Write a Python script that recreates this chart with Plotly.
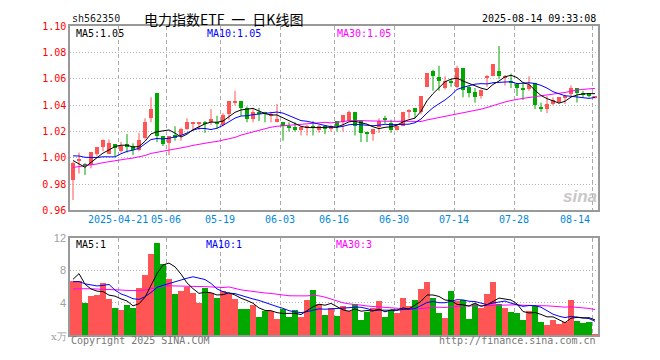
import numpy as np
import plotly.graph_objects as go

# ---------------- data ----------------
tick_idx = [8, 16, 25, 35, 44, 54, 64, 74, 87]
tick_labels = ["2025-04-21", "05-06", "05-19", "06-03", "06-16", "06-30", "07-14", "07-28", "08-14"]

open_ = [0.983, 0.997, 0.995, 0.994, 1.003, 1.008, 1.003, 1.010, 1.005, 1.010,
         1.009, 1.006, 1.015, 1.030, 1.049, 1.016, 1.011, 1.017, 1.017, 1.022,
         1.026, 1.026, 1.027, 1.027, 1.027, 1.025, 1.033, 1.042, 1.043, 1.038,
         1.029, 1.035, 1.035, 1.032, 1.027, 1.027, 1.024, 1.023, 1.021, 1.023,
         1.024, 1.021, 1.024, 1.022, 1.028, 1.027, 1.028, 1.035, 1.028, 1.019,
         1.018, 1.023, 1.030, 1.026, 1.021, 1.024, 1.035, 1.038, 1.035, 1.054,
         1.066, 1.061, 1.053, 1.058, 1.054, 1.068, 1.054, 1.050, 1.047, 1.061,
         1.062, 1.066, 1.061, 1.058, 1.056, 1.053, 1.052, 1.057, 1.038, 1.037,
         1.041, 1.042, 1.046, 1.048, 1.053, 1.049, 1.049, 1.046]
high = [0.997, 1.004, 0.996, 1.004, 1.008, 1.014, 1.014, 1.010, 1.012, 1.018,
        1.011, 1.019, 1.030, 1.046, 1.049, 1.016, 1.016, 1.024, 1.023, 1.030,
        1.027, 1.027, 1.028, 1.037, 1.032, 1.034, 1.043, 1.051, 1.043, 1.039,
        1.038, 1.038, 1.035, 1.035, 1.041, 1.027, 1.027, 1.027, 1.024, 1.025,
        1.028, 1.025, 1.024, 1.025, 1.028, 1.032, 1.036, 1.035, 1.028, 1.019,
        1.022, 1.030, 1.032, 1.029, 1.024, 1.035, 1.037, 1.038, 1.047, 1.064,
        1.067, 1.070, 1.062, 1.060, 1.070, 1.068, 1.055, 1.053, 1.052, 1.063,
        1.071, 1.085, 1.063, 1.064, 1.057, 1.057, 1.062, 1.057, 1.042, 1.047,
        1.046, 1.046, 1.048, 1.055, 1.053, 1.051, 1.049, 1.047]
low = [0.968, 0.988, 0.987, 0.992, 1.001, 1.005, 1.003, 1.001, 1.004, 1.004,
       1.002, 1.005, 1.014, 1.027, 1.012, 1.009, 1.002, 1.013, 1.013, 1.021,
       1.021, 1.021, 1.019, 1.025, 1.022, 1.024, 1.029, 1.040, 1.032, 1.027,
       1.027, 1.028, 1.027, 1.027, 1.027, 1.013, 1.020, 1.020, 1.017, 1.017,
       1.017, 1.019, 1.018, 1.020, 1.020, 1.020, 1.028, 1.017, 1.012, 1.012,
       1.013, 1.019, 1.026, 1.019, 1.021, 1.024, 1.030, 1.030, 1.033, 1.054,
       1.051, 1.051, 1.052, 1.054, 1.053, 1.046, 1.046, 1.042, 1.045, 1.054,
       1.062, 1.060, 1.055, 1.053, 1.047, 1.044, 1.051, 1.037, 1.035, 1.034,
       1.040, 1.041, 1.041, 1.047, 1.042, 1.046, 1.046, 1.045]
close = [0.996, 0.999, 0.994, 1.004, 1.008, 1.013, 1.011, 1.007, 1.009, 1.008,
         1.006, 1.013, 1.027, 1.037, 1.016, 1.010, 1.016, 1.015, 1.022, 1.027,
         1.027, 1.027, 1.026, 1.029, 1.026, 1.032, 1.043, 1.043, 1.038, 1.029,
         1.035, 1.033, 1.033, 1.033, 1.029, 1.024, 1.023, 1.021, 1.023, 1.024,
         1.023, 1.024, 1.022, 1.024, 1.024, 1.032, 1.035, 1.024, 1.019, 1.018,
         1.022, 1.028, 1.029, 1.021, 1.024, 1.035, 1.036, 1.035, 1.047, 1.064,
         1.062, 1.058, 1.058, 1.057, 1.068, 1.051, 1.049, 1.046, 1.051, 1.062,
         1.071, 1.062, 1.062, 1.057, 1.053, 1.052, 1.055, 1.040, 1.037, 1.041,
         1.044, 1.046, 1.047, 1.053, 1.049, 1.048, 1.047, 1.047]
volume = [6.7, 6.7, 4.0, 4.8, 5.0, 6.4, 4.5, 3.4, 3.1, 3.7,
          3.4, 5.8, 7.4, 10.0, 11.4, 8.8, 6.9, 5.1, 5.5, 6.0,
          5.2, 4.0, 5.8, 5.2, 4.6, 5.4, 5.1, 4.5, 3.2, 3.2,
          3.7, 2.2, 3.0, 3.0, 2.0, 3.2, 2.2, 3.1, 2.2, 4.4,
          5.6, 3.8, 2.5, 3.3, 2.4, 3.6, 3.0, 3.9, 1.9, 2.8,
          3.3, 4.2, 2.2, 3.1, 2.7, 4.6, 3.6, 4.3, 5.7, 6.6,
          4.6, 2.7, 2.1, 5.4, 4.2, 4.3, 2.0, 3.9, 3.4, 5.1,
          6.6, 3.9, 3.3, 2.8, 2.7, 1.9, 3.0, 3.6, 1.6, 1.2,
          1.9, 1.4, 1.6, 4.3, 1.8, 1.5, 1.6, 0.2]

# the 29 sessions before the first visible one (estimated so that the MA lines start where they do)
prior_close = [0.980, 0.978, 0.982, 0.985, 0.983, 0.986, 0.990, 0.988, 0.985, 0.987,
               0.990, 0.992, 0.989, 0.991, 0.994, 0.992, 0.990, 0.993, 0.995, 0.995,
               1.000, 1.004, 1.006, 1.008, 1.007, 1.012, 1.007, 0.985, 0.990]
prior_volume = [5.0, 4.6, 5.2, 5.8, 5.5, 4.8, 5.1, 5.6, 5.3, 4.9,
                5.0, 5.4, 5.7, 5.2, 4.8, 5.5, 5.6, 5.1, 5.3, 5.6,
                6.5, 6.8, 6.2, 6.2, 5.8, 3.2, 10.5, 7.8, 6.3]

ma_text_price = ["MA5:1.05", "MA10:1.05", "MA30:1.05"]
ma_text_vol = ["MA5:1", "MA10:1", "MA30:3"]

# ---------------- helpers ----------------
n = len(close)
xs = list(range(n))


def moving_avg(prior, vals, w):
    arr = np.array(prior + vals, dtype=float)
    out = np.convolve(arr, np.ones(w) / w, mode="valid")
    return out[-len(vals):]


ma5 = moving_avg(prior_close, close, 5)
ma10 = moving_avg(prior_close, close, 10)
ma30 = moving_avg(prior_close, close, 30)
vma5 = moving_avg(prior_volume, volume, 5)
vma10 = moving_avg(prior_volume, volume, 10)
vma30 = moving_avg(prior_volume, volume, 30)

RED = "#FF5555"
GREEN = "#00A800"
up = [c >= o for o, c in zip(open_, close)]
colors = [RED if u else GREEN for u in up]

W, H = 660, 360
X0, X1 = 70, 598
MAIN_TOP, MAIN_BOT = 21, 211.5
VOL_TOP, VOL_BOT = 240, 340.5


def py(y):
    return 1 - y / H


MONO = "DejaVu Sans Mono, Liberation Mono, monospace"

fig = go.Figure()

# wicks
for col, flag in ((RED, True), (GREEN, False)):
    wx, wy = [], []
    for i in xs:
        if up[i] == flag:
            wx += [i, i, None]
            wy += [low[i], high[i], None]
    fig.add_trace(go.Scatter(x=wx, y=wy, mode="lines", line=dict(color=col, width=1),
                             xaxis="x", yaxis="y", hoverinfo="skip", showlegend=False))

# bodies
base = [min(o, c) for o, c in zip(open_, close)]
body = [max(abs(c - o), 0.0009) for o, c in zip(open_, close)]
fig.add_trace(go.Bar(x=xs, y=body, base=base, width=0.82, marker=dict(color=colors, line=dict(width=0)),
                     xaxis="x", yaxis="y", showlegend=False))

# price MAs
for arr, col in ((ma30, "#FF00FF"), (ma10, "#0000FF"), (ma5, "#000000")):
    fig.add_trace(go.Scatter(x=xs, y=arr, mode="lines", line=dict(color=col, width=1),
                             xaxis="x", yaxis="y", showlegend=False))

# volume
fig.add_trace(go.Bar(x=xs, y=volume, width=0.88, marker=dict(color=colors, line=dict(width=0)),
                     xaxis="x2", yaxis="y2", showlegend=False))
for arr, col in ((vma30, "#FF00FF"), (vma10, "#0000FF"), (vma5, "#000000")):
    fig.add_trace(go.Scatter(x=xs, y=arr, mode="lines", line=dict(color=col, width=1),
                             xaxis="x2", yaxis="y2", showlegend=False))

grid_x = [i - 0.5 for i in tick_idx]
price_ticks = [0.96, 0.98, 1.00, 1.02, 1.04, 1.06, 1.08, 1.10]

common_x = dict(range=[-0.5, n - 0.5], domain=[X0 / W, X1 / W], tickvals=grid_x, showticklabels=False,
                showgrid=True, gridcolor="#AAAAAA", griddash="4px,3px", gridwidth=1,
                showline=True, mirror=True, linecolor="#999999", linewidth=1.5, zeroline=False, ticks="")

fig.update_layout(
    width=W, height=H, margin=dict(l=0, r=0, t=0, b=0),
    paper_bgcolor="white", plot_bgcolor="white", bargap=0, showlegend=False,
    xaxis=dict(anchor="y", **common_x),
    xaxis2=dict(anchor="y2", **common_x),
    yaxis=dict(anchor="x", domain=[py(MAIN_BOT), py(MAIN_TOP)], range=[0.96, 1.10],
               tickvals=price_ticks, ticktext=[f"{v:.2f}" for v in price_ticks],
               tickfont=dict(family=MONO, size=10, color="#FF0000"),
               showgrid=True, gridcolor="#B4B4B4", griddash="1px,2px", gridwidth=1,
               showline=True, mirror=True, linecolor="#999999", linewidth=1.5, zeroline=False, ticks=""),
    yaxis2=dict(anchor="x2", domain=[py(VOL_BOT), py(VOL_TOP)], range=[0, 12],
                tickvals=[4, 8, 12], ticktext=["4", "8", "12"],
                tickfont=dict(family="Liberation Sans, Arial", size=11, color="#A0A0A0"),
                showgrid=True, gridcolor="#B4B4B4", griddash="1px,2px", gridwidth=1,
                showline=True, mirror=True, linecolor="#999999", linewidth=1.5, zeroline=False, ticks=""),
)

ann = []


def text(x, y, s, size=10, color="#000000", anchor="left", family=MONO, xref="paper"):
    ann.append(dict(x=x if xref != "paper" else x / W, y=py(y), xref=xref, yref="paper", text=s,
                    showarrow=False, xanchor=anchor, yanchor="middle",
                    font=dict(family=family, size=size, color=color)))


# header
text(70, 13, "sh562350", 10, "#222222")
text(223, 13, "电力指数ETF\u2002一\u2002日K线图", 14, "#000000", "center", "Noto Sans CJK SC")
text(598, 13, "2025-08-14 09:33:08", 10, "#000000", "right")

# MA legends
text(74, 28, ma_text_price[0], 10, "#000000")
text(205, 28, ma_text_price[1], 10, "#0000FF")
text(335, 28, ma_text_price[2], 10, "#FF00FF")
text(74, 247, ma_text_vol[0], 10, "#000000")
text(204, 247, ma_text_vol[1], 10, "#0000FF")
text(334, 247, ma_text_vol[2], 10, "#FF00FF")

# date labels
for i, lab in zip(tick_idx, tick_labels):
    anchor = "right" if i == n - 1 else "center"
    text(i - 0.5, 221, lab, 10, "#0088DD", anchor, MONO, xref="x")

# footer
text(49, 342, "x万", 10, "#A0A0A0", "left", "DejaVu Serif")
text(69, 346, "Copyright 2025 SINA.COM", 10, "#777777")
text(598, 346, "http://finance.sina.com.cn", 10, "#777777", "right")

# watermark
text(580, 197, "<b><i>sina</i></b>", 17, "#C8C8C8", "center", "Liberation Sans")

fig.update_layout(annotations=ann)
fig.write_html("out.html", config={"displayModeBar": False},
               post_script="document.body.style.margin='0px';document.body.style.overflow='hidden';")
